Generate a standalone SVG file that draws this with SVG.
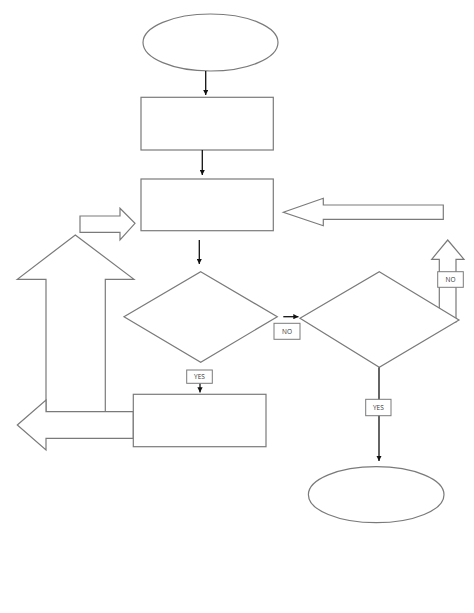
<svg xmlns="http://www.w3.org/2000/svg" width="474" height="613" viewBox="0 0 474 613">
<defs>
<style>
.s{fill:#fff;stroke:#7a7a7a;stroke-width:1.2}
.c{stroke:#111;stroke-width:1.3;fill:none}
.lb{fill:#fff;stroke:#7a7a7a;stroke-width:1}
.t{font-family:"Open Sans","Liberation Sans",sans-serif;font-size:6.5px;fill:#333;text-anchor:middle}
</style>
<marker id="ah" viewBox="0 0 6 6" refX="6" refY="3" markerWidth="4" markerHeight="4" orient="auto" markerUnits="strokeWidth">
<path d="M0,0 L6,3 L0,6 Z" fill="#111"/>
</marker>
</defs>
<rect width="474" height="613" fill="#fff"/>
<g id="arrows-shapes">
<polygon id="big-up" class="s" points="75.3,235 134,279.3 105.3,279.3 105.3,411.7 46,411.7 46,279.3 17.3,279.3"/>
<polygon id="big-left" class="s" points="17.3,425 46,400 46,411.7 133.3,411.7 133.3,438.3 46,438.3 46,450"/>
<polygon id="small-right" class="s" points="80,216 120,216 120,208.3 135,223.3 120,240 120,232.3 80,232.3"/>
<polygon id="long-left" class="s" points="283.3,212.3 323.3,198.3 323.3,205 443.3,205 443.3,219.3 323.3,219.3 323.3,225.7"/>
<polygon id="small-up" class="s" points="447.7,240 464,259.3 456,259.3 456,322 439.3,322 439.3,259.3 431.7,259.3"/>
</g>
<g id="start"><ellipse class="s" cx="210.5" cy="42.5" rx="67.5" ry="28.5"/></g>
<g id="process1"><rect class="s" x="141" y="97.3" width="132.3" height="52.7"/></g>
<g id="process2"><rect class="s" x="141" y="179" width="132.3" height="51.7"/></g>
<g id="decision1"><polygon class="s" points="200.7,271.7 277.3,316.7 200.7,362.3 124,316.7"/></g>
<g id="process3"><rect class="s" x="133.3" y="394.3" width="132.7" height="52.4"/></g>
<g id="decision2"><polygon class="s" points="379.3,271.7 459,320 379.3,367.3 300,318.3"/></g>
<g id="end"><ellipse class="s" cx="376.2" cy="494.7" rx="67.8" ry="28"/></g>
<g id="connectors">
<line class="c" x1="205.7" y1="71" x2="205.7" y2="95" marker-end="url(#ah)"/>
<line class="c" x1="202.3" y1="150" x2="202.3" y2="175" marker-end="url(#ah)"/>
<line class="c" x1="199.3" y1="240" x2="199.3" y2="264" marker-end="url(#ah)"/>
<line class="c" x1="200" y1="383.3" x2="200" y2="392.5" marker-end="url(#ah)"/>
<line class="c" x1="283.3" y1="316.7" x2="298.5" y2="316.7" marker-end="url(#ah)"/>
<line class="c" x1="379" y1="367.5" x2="379" y2="461" marker-end="url(#ah)"/>
</g>
<g id="labels">
<rect class="lb" x="186.7" y="370" width="25.6" height="13.3"/>
<text class="t" x="199.5" y="379">YES</text>
<rect class="lb" x="274" y="323.3" width="26" height="16"/>
<text class="t" x="287" y="333.7">NO</text>
<rect class="lb" x="437.7" y="271.7" width="25.6" height="15.6"/>
<text class="t" x="450.5" y="281.8">NO</text>
<rect class="lb" x="365.7" y="399.3" width="25.3" height="16.4"/>
<text class="t" x="378.3" y="409.8">YES</text>
</g>
</svg>
